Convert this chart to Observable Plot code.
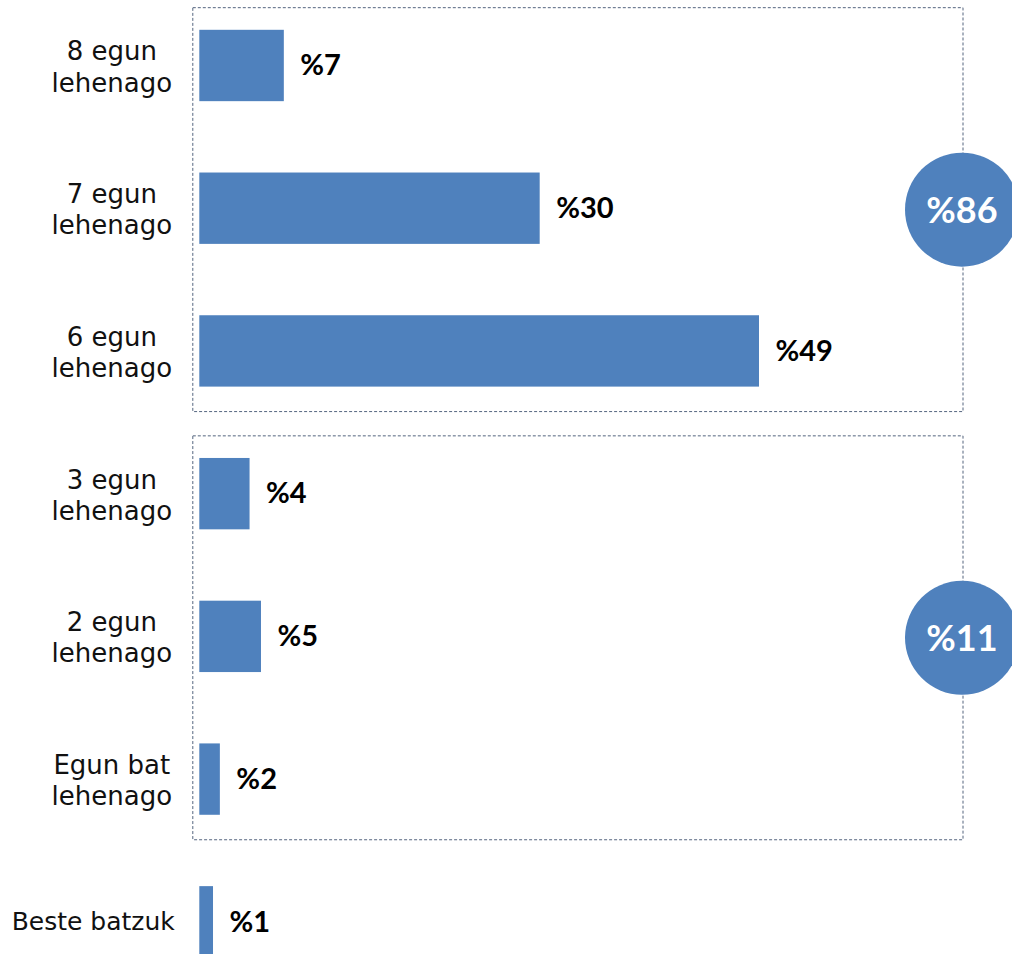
<!DOCTYPE html>
<html><head><meta charset="utf-8">
<script src="https://cdn.jsdelivr.net/npm/d3@7"></script>
<script src="https://cdn.jsdelivr.net/npm/@observablehq/plot@0.6"></script>
<style>body{margin:0;background:#fff;overflow:hidden}</style>
</head><body><div id="chart"></div>
<script>
const categories = ["8 egun\nlehenago", "7 egun\nlehenago", "6 egun\nlehenago", "3 egun\nlehenago", "2 egun\nlehenago", "Egun bat\nlehenago", "Beste batzuk"];
const values = [7.4, 29.8, 49, 4.4, 5.4, 1.8, 1.2];
const valueLabels = ["%7", "%30", "%49", "%4", "%5", "%2", "%1"];
const groupFirst = ["8 egun\nlehenago", "3 egun\nlehenago"];
const groupLast = ["6 egun\nlehenago", "Egun bat\nlehenago"];
const groupTotals = ["%86", "%11"];

const data = categories.map((c, i) => ({cat: c, value: values[i], label: valueLabels[i]}));
const groups = groupTotals.map((t, i) => ({first: groupFirst[i], last: groupLast[i], total: t}));
const font = "Lato, 'Open Sans', sans-serif";
const labelFont = "'DejaVu Sans', sans-serif";
const blue = "#4F81BD";

function groupExtent(grp, y) {
  const bw = y.bandwidth ? y.bandwidth() : 71;
  return [y(grp.first) - bw * 0.31, y(grp.last) + bw + bw * 0.35];
}
function boxes(index, scales, vals, dims) {
  const {x, y} = scales;
  const g = d3.create("svg:g");
  for (const grp of groups) {
    const [top, bottom] = groupExtent(grp, y);
    const left = x(0) - 6.5, right = dims.width - 49;
    g.append("rect").attr("x", left).attr("y", top).attr("width", right - left).attr("height", bottom - top)
      .attr("fill", "none").attr("stroke", "#55657f").attr("stroke-width", 1).attr("stroke-dasharray", "3 2");
  }
  return g.node();
}
function bubbles(index, scales, vals, dims) {
  const {y} = scales;
  const g = d3.create("svg:g");
  for (const grp of groups) {
    const [top, bottom] = groupExtent(grp, y);
    const cx = dims.width - 50, cy = (top + bottom) / 2;
    g.append("circle").attr("cx", cx).attr("cy", cy).attr("r", 57).attr("fill", blue);
    g.append("text").attr("x", cx).attr("y", cy).attr("text-anchor", "middle").attr("dy", "0.36em")
      .attr("fill", "#fff").attr("font-size", 36).attr("font-weight", "bold").attr("font-family", font).text(grp.total);
  }
  return g.node();
}

const chart = Plot.plot({
  width: 1012, height: 954,
  marginTop: 0, marginBottom: 0, marginLeft: 0, marginRight: 0,
  style: {fontFamily: font, background: "#fff", overflow: "hidden"},
  x: {domain: [0, 49], range: [199.3, 759], axis: null},
  y: {domain: categories, range: [29.8, 957.5], paddingInner: 0.5, paddingOuter: 0, round: false, axis: null},
  marks: [
    boxes,
    Plot.barX(data, {x: "value", y: "cat", fill: blue}),
    Plot.text(data, {x: "value", y: "cat", text: "label", textAnchor: "start", dx: 16, fontSize: 29, fontWeight: "bold", fill: "#000"}),
    Plot.text(data.filter(d => d.cat.includes("\n")), {x: () => 0, y: "cat", text: "cat", textAnchor: "middle", dx: -88, fontSize: 26, lineHeight: 1.2, fontFamily: labelFont, fill: "#111"}),
    Plot.text(data.filter(d => !d.cat.includes("\n")), {x: () => 0, y: "cat", text: "cat", textAnchor: "end", dx: -25, fontSize: 25, fontFamily: labelFont, fill: "#111"}),
    bubbles
  ]
});
document.getElementById("chart").append(chart);
</script>
</body></html>
